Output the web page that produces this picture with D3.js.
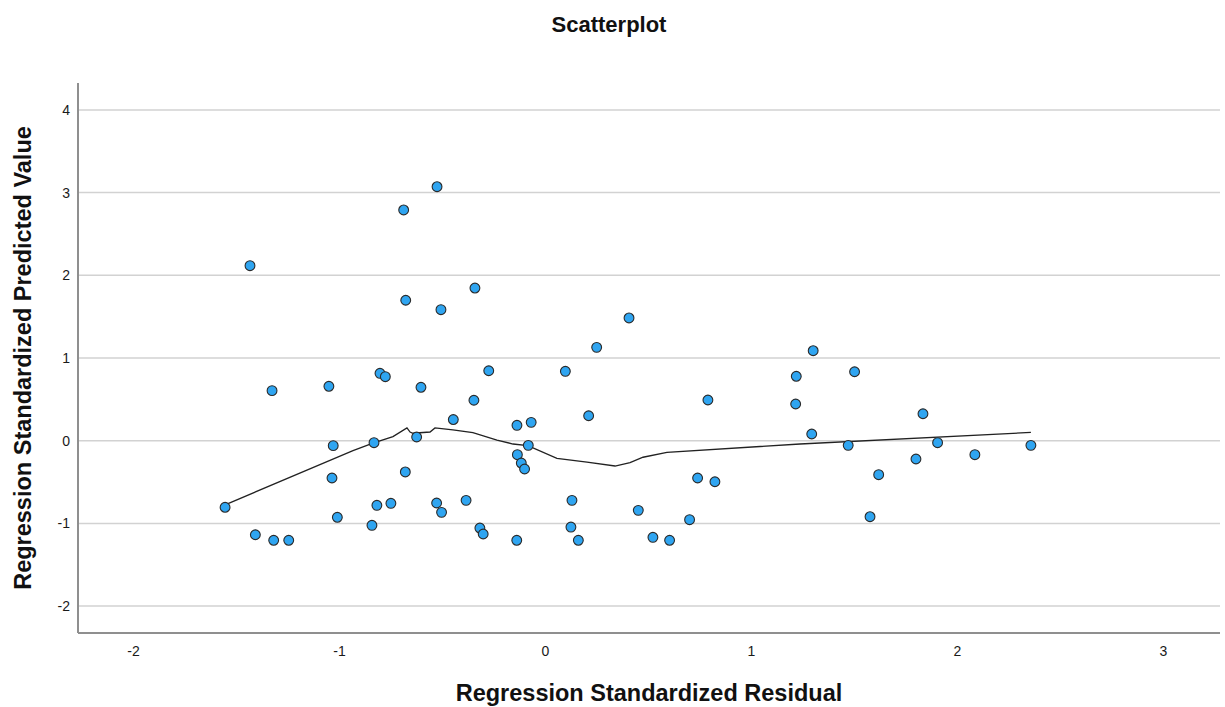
<!DOCTYPE html>
<html>
<head>
<meta charset="utf-8">
<script src="https://cdn.jsdelivr.net/npm/d3@7"></script>
<style>
  body { margin: 0; background: #fff; }
  text { font-family: "Liberation Sans", Arial, sans-serif; }
</style>
</head>
<body>
<div id="viz"></div>
<script>
// residuals (x) and predicted values (y)
var residual = [-1.553, -1.432, -1.406, -1.325, -1.317, -1.244, -1.049, -1.028, -1.034, -1.008,
    -0.840, -0.830, -0.816, -0.801, -0.775, -0.748, -0.686, -0.676, -0.678, -0.623,
    -0.602, -0.524, -0.526, -0.505, -0.502, -0.445, -0.383, -0.345, -0.340, -0.316,
    -0.300, -0.273, -0.137, -0.136, -0.134, -0.115, -0.099, -0.081, -0.067, 0.099,
    0.131, 0.126, 0.162, 0.212, 0.251, 0.408, 0.453, 0.524, 0.605, 0.702,
    0.741, 0.791, 0.825, 1.220, 1.217, 1.295, 1.302, 1.472, 1.503, 1.578,
    1.620, 1.801, 1.835, 1.906, 2.087, 2.359];
var predicted = [-0.805, 2.116, -1.137, 0.605, -1.204, -1.204, 0.658, -0.060, -0.451, -0.926,
    -1.023, -0.024, -0.781, 0.815, 0.774, -0.757, 2.790, 1.698, -0.378, 0.045,
    0.646, 3.071, -0.753, 1.584, -0.866, 0.256, -0.721, 0.489, 1.846, -1.056,
    -1.128, 0.846, -1.204, 0.186, -0.169, -0.270, -0.342, -0.056, 0.222, 0.839,
    -0.721, -1.044, -1.204, 0.302, 1.129, 1.484, -0.842, -1.168, -1.204, -0.955,
    -0.451, 0.492, -0.496, 0.779, 0.444, 0.081, 1.088, -0.056, 0.834, -0.919,
    -0.411, -0.221, 0.326, -0.024, -0.169, -0.056];

// fit line vertices (loess)
var fitX = [-1.553, -0.932, -0.835, -0.738, -0.670, -0.655, -0.641, -0.558, -0.534, -0.447,
    -0.350, -0.233, -0.155, -0.083, 0.058, 0.204, 0.340, 0.413, 0.476, 0.592, 1.238, 2.359];
var fitY = [-0.775, -0.12, -0.03, 0.05, 0.155, 0.105, 0.09, 0.105, 0.155, 0.13,
    0.097, 0.008, -0.04, -0.06, -0.213, -0.26, -0.306, -0.266, -0.20, -0.14, -0.04, 0.10];

var xTicks = [-2, -1, 0, 1, 2, 3];
var yTicks = [-2, -1, 0, 1, 2, 3, 4];

var points = residual.map(function (d, i) { return { x: d, y: predicted[i] }; });
var fit = fitX.map(function (d, i) { return { x: d, y: fitY[i] }; });

// set the dimensions and margins of the graph
var margin = { top: 83, right: 5, bottom: 74, left: 78 },
    width = 1225 - margin.left - margin.right,
    height = 707 - margin.top - margin.bottom;

var svg = d3.select("#viz")
    .append("svg")
    .attr("width", 1225)
    .attr("height", 707);

var g = svg.append("g")
    .attr("transform", "translate(" + margin.left + "," + margin.top + ")");

var x = d3.scaleLinear()
    .domain([-2.267, 3.277])
    .range([0, width]);

var y = d3.scaleLinear()
    .domain([-2.325, 4.325])
    .range([height, 0]);

// horizontal gridlines
g.append("g")
    .selectAll("line")
    .data(yTicks)
    .enter()
    .append("line")
    .attr("x1", 0)
    .attr("x2", width)
    .attr("y1", function (d) { return y(d) })
    .attr("y2", function (d) { return y(d) })
    .attr("stroke", "#d2d2d2")
    .attr("stroke-width", 1.5);

// Y axis labels (plain hyphen for negatives, like the original)
var yAxis = g.append("g")
    .call(d3.axisLeft(y).tickValues(yTicks).tickSize(0).tickPadding(8).tickFormat(function (d) { return String(d) }));
yAxis.select(".domain").remove();
yAxis.selectAll("text")
    .style("font-size", "14px")
    .attr("fill", "#1a1a1a");

// X axis labels
var xAxis = g.append("g")
    .attr("transform", "translate(0," + height + ")")
    .call(d3.axisBottom(x).tickValues(xTicks).tickSize(0).tickPadding(13).tickFormat(function (d) { return String(d) }));
xAxis.select(".domain").remove();
xAxis.selectAll("text")
    .style("font-size", "14px")
    .attr("fill", "#1a1a1a");

// axis lines
g.append("line")
    .attr("x1", 0).attr("x2", 0)
    .attr("y1", 0).attr("y2", height)
    .attr("stroke", "#8f8f8f")
    .attr("stroke-width", 2);
g.append("line")
    .attr("x1", 0).attr("x2", width)
    .attr("y1", height).attr("y2", height)
    .attr("stroke", "#8f8f8f")
    .attr("stroke-width", 2);

// the fit line
g.append("path")
    .datum(fit)
    .attr("fill", "none")
    .attr("stroke", "#222")
    .attr("stroke-width", 1.3)
    .attr("d", d3.line()
        .x(function (d) { return x(d.x) })
        .y(function (d) { return y(d.y) }));

// the points
g.append("g")
    .selectAll("circle")
    .data(points)
    .enter()
    .append("circle")
    .attr("cx", function (d) { return x(d.x) })
    .attr("cy", function (d) { return y(d.y) })
    .attr("r", 4.9)
    .attr("fill", "#2fa5f1")
    .attr("stroke", "#2a2a2a")
    .attr("stroke-width", 1.1);

// chart title
svg.append("text")
    .attr("text-anchor", "middle")
    .attr("x", 609)
    .attr("y", 32)
    .style("font-size", "22px")
    .style("font-weight", "bold")
    .attr("fill", "#111")
    .text("Scatterplot");

// X axis title
svg.append("text")
    .attr("text-anchor", "middle")
    .attr("x", margin.left + width / 2)
    .attr("y", 701)
    .style("font-size", "23.5px")
    .style("font-weight", "bold")
    .attr("fill", "#111")
    .text("Regression Standardized Residual");

// Y axis title
svg.append("text")
    .attr("text-anchor", "middle")
    .attr("transform", "translate(31," + (margin.top + height / 2) + ") rotate(-90)")
    .style("font-size", "23.5px")
    .style("font-weight", "bold")
    .attr("fill", "#111")
    .text("Regression Standardized Predicted Value");
</script>
</body>
</html>
